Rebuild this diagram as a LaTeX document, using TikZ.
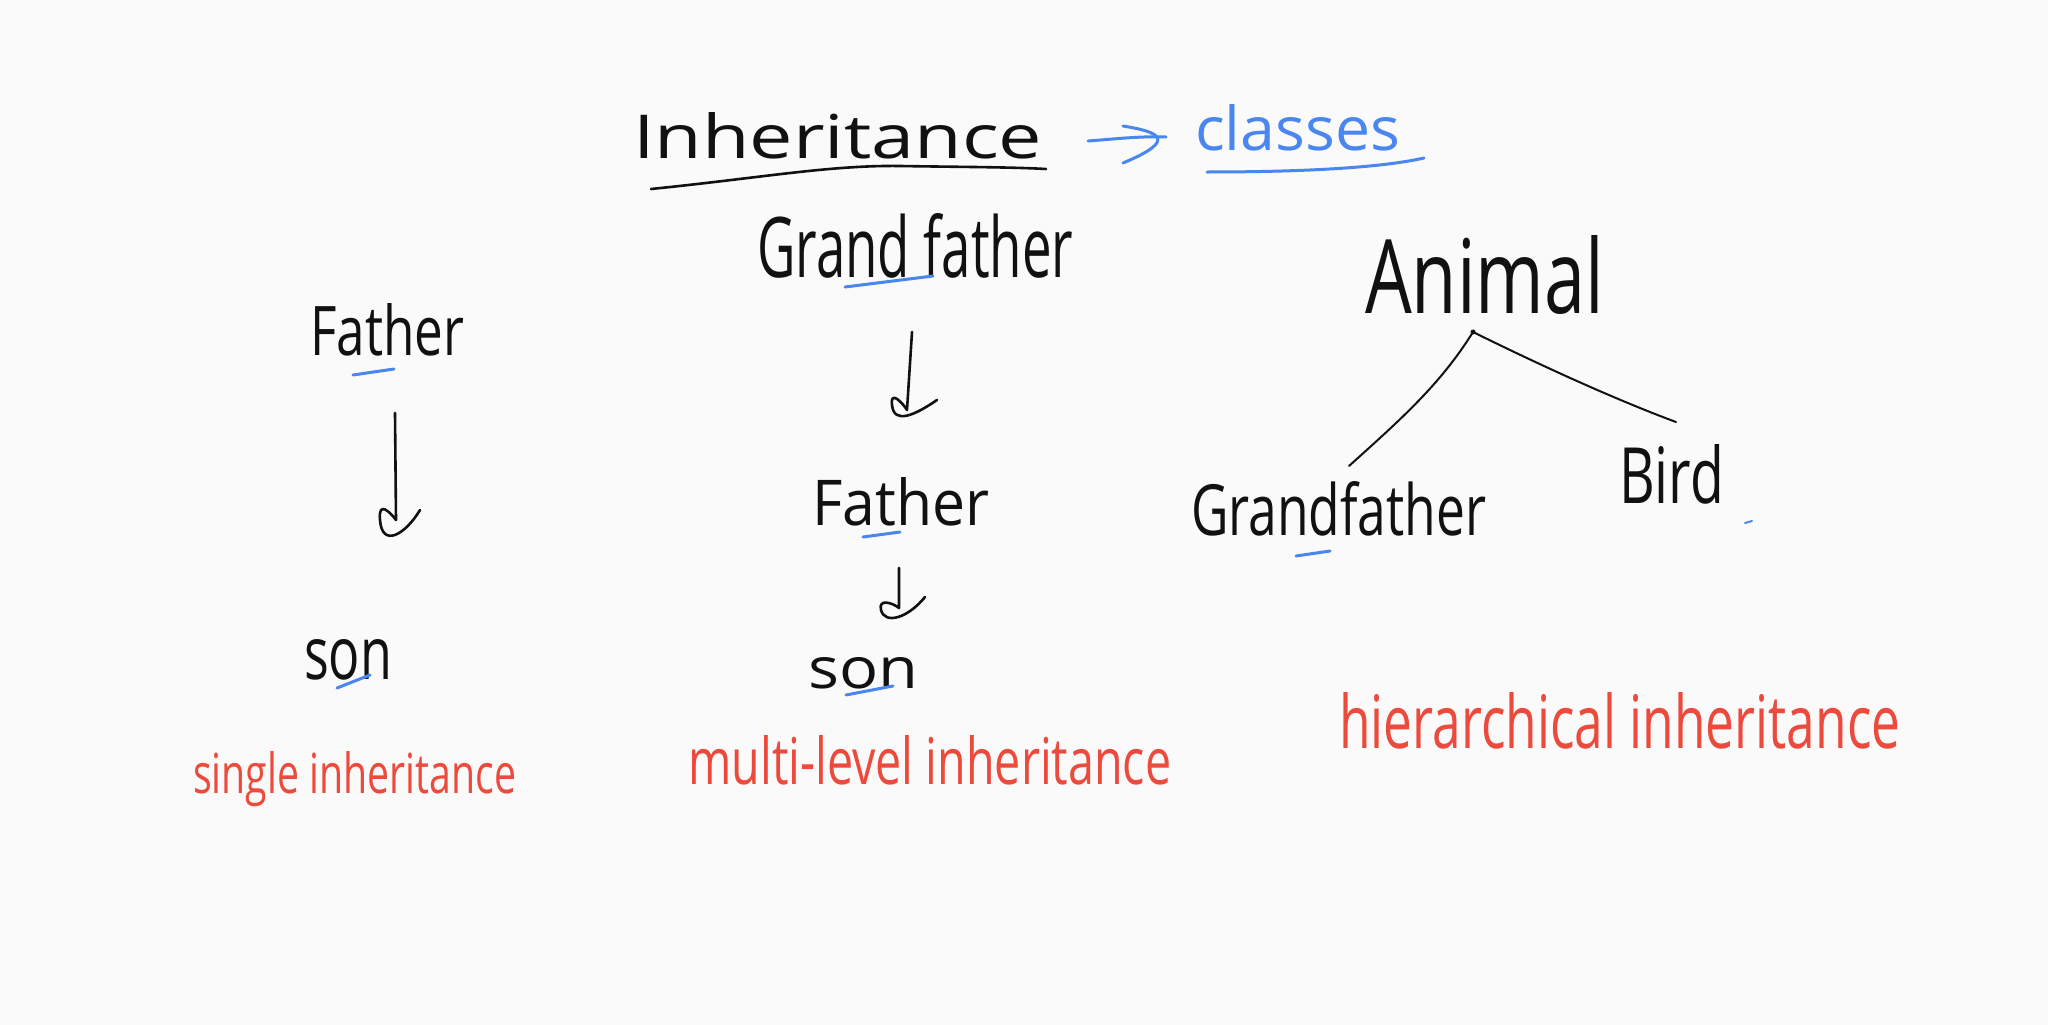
\documentclass[tikz,border=0pt]{standalone}
\usepackage{fontspec}
\setmainfont{Open Sans}
\usepackage{graphicx}
\definecolor{ink}{HTML}{111111}
\definecolor{penblue}{HTML}{4A86F0}
\definecolor{penred}{HTML}{EC4A3C}
\definecolor{board}{HTML}{FAFAFA}
\newcommand{\hw}[3]{\resizebox{#1pt}{#2pt}{#3}}
\begin{document}
\begin{tikzpicture}[x=1pt,y=-1pt,
  word/.style={inner sep=0pt, anchor=base west},
  blackword/.style={word, text=ink},
  blueword/.style={word, text=penblue},
  redword/.style={word, text=penred},
  inkline/.style={line width=2.6pt, line cap=round, line join=round, draw=ink},
  thinline/.style={line width=2pt, line cap=round, draw=ink},
  blueline/.style={line width=3pt, line cap=round, line join=round, draw=penblue}]
\fill[board] (0,0) rectangle (2048,1025);
\useasboundingbox (0,0) rectangle (2048,1025);

% words
\node[blackword] (inh) at (633,158) {\hw{409}{46}{Inheritance}};
\node[blueword] (cls) at (1195,150) {\hw{205}{46}{classes}};
\node[blackword] (gfa) at (757,277) {\hw{316}{64}{Grand father}};
\node[blackword] (fa1) at (310,355) {\hw{154}{52}{Father}};
\node[blackword] (son1) at (304,679) {\hw{88}{40}{son}};
\node[redword] (single) at (193,793) {\hw{323}{42}{single inheritance}};
\node[blackword] (fa2) at (812,525) {\hw{177}{48}{Father}};
\node[blackword] (son2) at (808,688) {\hw{110}{31}{son}};
\node[redword] (multi) at (688,784) {\hw{483}{49}{multi-level inheritance}};
\node[blackword] (animal) at (1365,313) {\hw{239}{78}{Animal}};
\node[blackword] (gfb) at (1191,535) {\hw{295}{54}{Grandfather}};
\node[blackword] (bird) at (1619,503) {\hw{105}{59}{Bird}};
\node[redword] (hier) at (1339,748) {\hw{561}{56}{hierarchical inheritance}};

% coordinates for connectors
\coordinate (a1s) at (395,413); \coordinate (a1e) at (396,520);
\coordinate (a2s) at (912,332); \coordinate (a2e) at (907,410);
\coordinate (a3s) at (899,568); \coordinate (a3e) at (899,608);
\coordinate (ba) at (1088,141); \coordinate (bb) at (1166,137);
\coordinate (apex) at (1473,332);
\coordinate (lend) at (1349,466);
\coordinate (rend) at (1676,422);

% underline of title
\draw[inkline] (651,189) .. controls (760,178) and (830,165) .. (900,166)
  .. controls (960,167) and (1010,167) .. (1046,169);

% blue arrow to classes
\draw[blueline] (ba) .. controls (1115,139) and (1140,136) .. (bb);
\draw[blueline] (1123,126) .. controls (1160,132) and (1178,140) .. (1123,163);
\draw[blueline] (1207,172) .. controls (1300,172) and (1380,168) .. (1424,158);

% down arrows
\draw[inkline] (a1s) -- (a1e) .. controls (390,512) and (378,500) .. (380,520)
  .. controls (382,548) and (405,535) .. (420,510);
\draw[inkline] (a2s) -- (a2e) .. controls (902,402) and (890,390) .. (892,405)
  .. controls (894,425) and (915,415) .. (937,400);
\draw[inkline] (a3s) -- (a3e) .. controls (893,603) and (878,598) .. (881,610)
  .. controls (885,625) and (908,618) .. (925,597);

% hierarchy lines
\draw[thinline] (apex) .. controls (1440,385) and (1400,420) .. (lend);
\draw[thinline] (apex) .. controls (1560,375) and (1630,405) .. (rend);
\fill[ink] (apex) circle (2.5pt);

% blue under-marks
\draw[blueline] (845,287) -- (933,276);
\draw[blueline] (353,375) -- (394,369);
\draw[blueline] (337,688) -- (370,675);
\draw[blueline] (863,537) -- (900,532);
\draw[blueline] (846,695) -- (893,686);
\draw[blueline] (1296,556) -- (1330,551);
\draw[penblue, line width=2pt, line cap=round] (1745,523) -- (1752,521);
\end{tikzpicture}
\end{document}
